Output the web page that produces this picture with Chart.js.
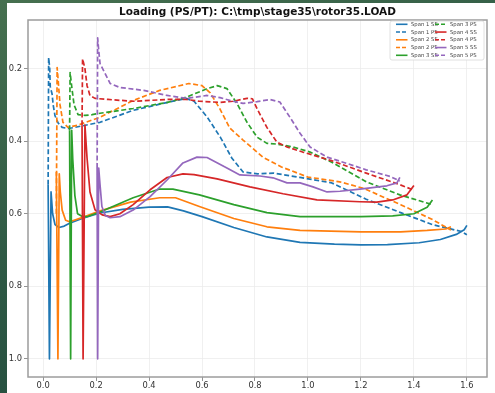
<!DOCTYPE html>
<html>
<head>
<meta charset="utf-8">
<script src="https://cdn.jsdelivr.net/npm/chart.js@4.4.1/dist/chart.umd.min.js"></script>
<style>
  html, body { margin: 0; padding: 0; }
  body {
    width: 495px; height: 393px; overflow: hidden; position: relative;
    background: linear-gradient(160deg, #46704f 0%, #2f5a45 45%, #1d463b 100%);
  }
  #sheet { position: absolute; left: 7px; top: 3px; right: 0; bottom: 0; background: #fff; }
  #plot { position: absolute; left: 0; top: 0; }
</style>
</head>
<body>
<div id="sheet"></div>
<canvas id="plot" width="495" height="393"></canvas>
<script>
// P/PT along the blade, [meridional distance, P/PT] for each span
const span1SS = [[0.019,0.52],[0.024,1.0],[0.030,0.54],[0.036,0.60],[0.045,0.63],[0.060,0.638],[0.080,0.634],[0.100,0.626],[0.150,0.612],[0.215,0.598],[0.300,0.588],[0.400,0.582],[0.470,0.581],[0.530,0.592],[0.600,0.608],[0.720,0.638],[0.845,0.664],[0.970,0.679],[1.100,0.684],[1.200,0.686],[1.300,0.685],[1.420,0.680],[1.500,0.671],[1.560,0.657],[1.590,0.644],[1.600,0.632]];
const span1PS = [[0.019,0.52],[0.021,0.17],[0.025,0.20],[0.027,0.25],[0.034,0.27],[0.038,0.30],[0.045,0.33],[0.057,0.35],[0.072,0.362],[0.095,0.365],[0.120,0.362],[0.160,0.356],[0.215,0.348],[0.340,0.315],[0.470,0.293],[0.540,0.282],[0.570,0.290],[0.620,0.334],[0.670,0.390],[0.713,0.447],[0.755,0.485],[0.810,0.490],[0.870,0.488],[0.970,0.500],[1.090,0.515],[1.220,0.560],[1.350,0.597],[1.470,0.630],[1.580,0.649],[1.600,0.658]];
const span2SS = [[0.050,0.485],[0.056,1.0],[0.061,0.49],[0.065,0.54],[0.072,0.59],[0.085,0.618],[0.100,0.622],[0.150,0.610],[0.215,0.592],[0.330,0.568],[0.440,0.556],[0.500,0.556],[0.590,0.580],[0.720,0.613],[0.845,0.636],[0.970,0.646],[1.200,0.650],[1.350,0.650],[1.450,0.646],[1.520,0.642],[1.540,0.636]];
const span2PS = [[0.050,0.60],[0.053,0.197],[0.057,0.233],[0.064,0.30],[0.075,0.348],[0.094,0.362],[0.130,0.356],[0.215,0.334],[0.340,0.288],[0.440,0.260],[0.550,0.241],[0.600,0.247],[0.630,0.266],[0.667,0.310],[0.705,0.364],[0.755,0.397],[0.830,0.444],[0.900,0.471],[1.000,0.499],[1.120,0.512],[1.210,0.530],[1.350,0.575],[1.470,0.616],[1.540,0.645]];
const span3SS = [[0.100,0.37],[0.104,1.0],[0.108,0.37],[0.112,0.45],[0.120,0.55],[0.130,0.60],[0.150,0.608],[0.170,0.607],[0.215,0.595],[0.340,0.556],[0.440,0.532],[0.490,0.532],[0.590,0.548],[0.720,0.575],[0.845,0.597],[0.970,0.608],[1.200,0.608],[1.320,0.606],[1.400,0.600],[1.450,0.582],[1.470,0.562]];
const span3PS = [[0.100,0.37],[0.102,0.211],[0.109,0.255],[0.117,0.30],[0.132,0.327],[0.158,0.329],[0.185,0.327],[0.215,0.323],[0.340,0.310],[0.470,0.293],[0.540,0.279],[0.620,0.255],[0.657,0.247],[0.694,0.255],[0.732,0.296],[0.770,0.348],[0.808,0.389],[0.845,0.406],[0.883,0.408],[0.943,0.416],[1.008,0.430],[1.090,0.458],[1.220,0.512],[1.347,0.548],[1.470,0.575]];
const span4SS = [[0.147,0.356],[0.151,1.0],[0.158,0.356],[0.166,0.447],[0.177,0.54],[0.196,0.589],[0.223,0.603],[0.253,0.608],[0.290,0.600],[0.340,0.575],[0.404,0.534],[0.468,0.500],[0.528,0.490],[0.570,0.492],[0.657,0.504],[0.781,0.526],[0.906,0.545],[1.034,0.562],[1.196,0.567],[1.260,0.568],[1.320,0.562],[1.374,0.548],[1.400,0.522]];
const span4PS = [[0.147,0.356],[0.149,0.173],[0.158,0.20],[0.166,0.247],[0.177,0.274],[0.196,0.282],[0.245,0.285],[0.340,0.290],[0.470,0.285],[0.540,0.285],[0.590,0.290],[0.668,0.293],[0.717,0.290],[0.770,0.282],[0.790,0.283],[0.811,0.315],[0.845,0.362],[0.883,0.403],[0.921,0.416],[0.980,0.430],[1.045,0.444],[1.094,0.455],[1.220,0.488],[1.347,0.520],[1.400,0.535]];
const span5SS = [[0.204,0.474],[0.206,1.0],[0.210,0.474],[0.215,0.52],[0.222,0.58],[0.235,0.605],[0.253,0.611],[0.290,0.608],[0.340,0.590],[0.404,0.553],[0.468,0.507],[0.528,0.460],[0.581,0.444],[0.619,0.445],[0.694,0.474],[0.743,0.493],[0.819,0.496],[0.868,0.501],[0.921,0.515],[0.970,0.515],[1.019,0.526],[1.072,0.540],[1.121,0.538],[1.196,0.532],[1.298,0.523],[1.336,0.515],[1.347,0.500]];
const span5PS = [[0.204,0.474],[0.206,0.115],[0.210,0.150],[0.215,0.186],[0.253,0.241],[0.290,0.252],[0.380,0.260],[0.468,0.274],[0.543,0.282],[0.619,0.274],[0.668,0.280],[0.717,0.290],[0.755,0.296],[0.808,0.291],[0.857,0.285],[0.894,0.292],[0.932,0.334],[0.970,0.378],[1.008,0.416],[1.072,0.444],[1.150,0.462],[1.220,0.479],[1.310,0.497],[1.347,0.510]];

const seriesNames = ['Span 1 SS','Span 1 PS','Span 2 SS','Span 2 PS','Span 3 SS','Span 3 PS','Span 4 SS','Span 4 PS','Span 5 SS','Span 5 PS'];
const seriesData = [span1SS, span1PS, span2SS, span2PS, span3SS, span3PS, span4SS, span4PS, span5SS, span5PS];
const xTicks = [0.0, 0.2, 0.4, 0.6, 0.8, 1.0, 1.2, 1.4, 1.6];
const yTicks = [0.2, 0.4, 0.6, 0.8, 1.0];

// matplotlib tab10, one colour per span
const spanColors = ['#1f77b4', '#ff7f0e', '#2ca02c', '#d62728', '#9467bd'];
const dashPS = [5, 2.6];

const datasets = seriesData.map((pts, i) => ({
  label: seriesNames[i],
  data: pts.map(p => ({ x: p[0], y: p[1] })),
  borderColor: spanColors[Math.floor(i / 2)],
  borderWidth: 1.7,
  borderDash: i % 2 ? dashPS : [],
  borderJoinStyle: 'round',
  showLine: true,
  pointRadius: 0,
  tension: 0,
  order: -i
}));

// axes box drawn over the lines
const frame = {
  id: 'frame',
  afterDatasetsDraw(chart) {
    const { ctx, chartArea: a } = chart;
    ctx.save();
    ctx.strokeStyle = '#9c9c9c';
    ctx.lineWidth = 1.5;
    ctx.strokeRect(a.left, a.top, a.right - a.left, a.bottom - a.top);
    ctx.restore();
  }
};

// two-column legend, filled column by column
const colLegend = {
  id: 'colLegend',
  afterDraw(chart) {
    const ctx = chart.ctx;
    const box = { x: 390, y: 21, w: 94, h: 39 };
    ctx.save();
    ctx.fillStyle = 'rgba(255,255,255,0.85)';
    ctx.strokeStyle = '#d8d8d8';
    ctx.lineWidth = 0.8;
    ctx.beginPath();
    ctx.roundRect(box.x, box.y, box.w, box.h, 2);
    ctx.fill();
    ctx.stroke();
    ctx.font = '5.3px "DejaVu Sans"';
    ctx.textBaseline = 'middle';
    chart.data.datasets.forEach((ds, i) => {
      const col = Math.floor(i / 5), row = i % 5;
      const x0 = col ? 435 : 396;
      const y = 24.3 + row * 7.75;
      ctx.strokeStyle = ds.borderColor;
      ctx.lineWidth = 1.6;
      ctx.setLineDash(ds.borderDash.length ? [4, 2] : []);
      ctx.beginPath();
      ctx.moveTo(x0, y);
      ctx.lineTo(x0 + 11.5, y);
      ctx.stroke();
      ctx.setLineDash([]);
      ctx.fillStyle = '#444';
      ctx.fillText(ds.label, x0 + 15, y + 0.3);
    });
    ctx.restore();
  }
};

const tickFont = { family: 'DejaVu Sans', size: 8.3 };

new Chart(document.getElementById('plot'), {
  type: 'scatter',
  data: { datasets },
  options: {
    responsive: false,
    animation: false,
    devicePixelRatio: 1,
    layout: { padding: { left: 0, right: 8, top: 0, bottom: 0 } },
    scales: {
      x: {
        type: 'linear',
        min: -0.057,
        max: 1.676,
        afterBuildTicks: s => { s.ticks = xTicks.map(v => ({ value: v })); },
        afterFit: s => { s.height = 16; },
        ticks: { callback: v => v.toFixed(1), font: tickFont, color: '#333', padding: 0, maxRotation: 0, autoSkip: false },
        grid: { color: '#ececec', lineWidth: 0.8, tickLength: 4, tickColor: '#777', tickWidth: 0.8 },
        border: { display: false }
      },
      y: {
        type: 'linear',
        reverse: true,
        min: 0.066,
        max: 1.05,
        afterBuildTicks: s => { s.ticks = yTicks.map(v => ({ value: v })); },
        afterFit: s => { s.width = 28; },
        ticks: { callback: v => v.toFixed(1), font: tickFont, color: '#333', padding: 2, autoSkip: false },
        grid: { color: '#ececec', lineWidth: 0.8, tickLength: 4, tickColor: '#777', tickWidth: 0.8 },
        border: { display: false }
      }
    },
    plugins: {
      legend: { display: false },
      tooltip: { enabled: false },
      title: {
        display: true,
        text: 'Loading (PS/PT): C:\\tmp\\stage35\\rotor35.LOAD',
        font: { family: 'DejaVu Sans', size: 10.5, weight: 'bold' },
        color: '#111',
        fullSize: false,
        padding: { top: 6, bottom: 1.4 }
      }
    }
  },
  plugins: [frame, colLegend]
});
</script>
</body>
</html>
